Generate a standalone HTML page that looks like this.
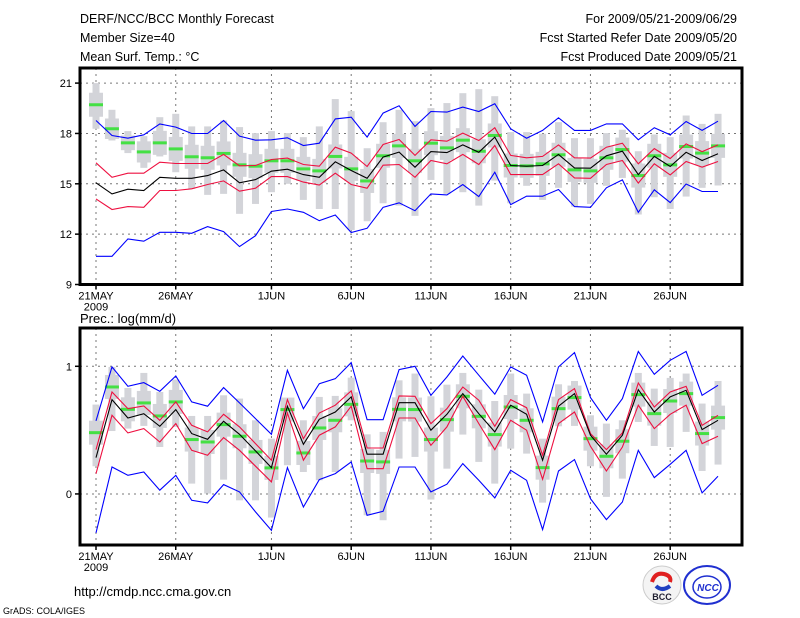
<!DOCTYPE html>
<html><head><meta charset="utf-8">
<style>
html,body{margin:0;padding:0;background:#fff;}
svg{display:block;font-family:"Liberation Sans",sans-serif;}
</style></head>
<body>
<svg id="chart" width="800" height="618" viewBox="0 0 800 618" xmlns="http://www.w3.org/2000/svg">
<g font-size="12.5" fill="#000">
<text x="80" y="23">DERF/NCC/BCC Monthly Forecast</text>
<text x="80" y="42">Member Size=40</text>
<text x="80" y="61">Mean Surf. Temp.: °C</text>
<text x="737" y="23" text-anchor="end">For 2009/05/21-2009/06/29</text>
<text x="737" y="42" text-anchor="end">Fcst Started Refer Date 2009/05/20</text>
<text x="737" y="61" text-anchor="end">Fcst Produced Date 2009/05/21</text>
</g>
<text x="80" y="323" font-size="13">Prec.: log(mm/d)</text>
<text x="74" y="596" font-size="13">http://cmdp.ncc.cma.gov.cn</text>
<text x="3" y="614" font-size="9">GrADS: COLA/IGES</text>
<g>
<circle cx="662" cy="585" r="19" fill="#f4f4f4" stroke="#ccc"/>
<path d="M652 582 q3 -10 12 -8 q8 2 6 8" fill="none" stroke="#e02020" stroke-width="4"/>
<path d="M656 586 q6 6 14 0" fill="none" stroke="#2040c0" stroke-width="4"/>
<text x="662" y="600" font-size="9" font-weight="bold" text-anchor="middle" fill="#223">BCC</text>
</g>
<g>
<ellipse cx="707" cy="585" rx="23" ry="19" fill="#fff" stroke="#2030d0" stroke-width="2"/>
<ellipse cx="707" cy="587" rx="14" ry="11" fill="none" stroke="#2030d0" stroke-width="1.5"/>
<text x="708" y="591" font-size="10" font-style="italic" font-weight="bold" text-anchor="middle" fill="#2030d0">NCC</text>
</g>
<g id="top"></g>
<g id="bot"></g>
</svg>
<script>
// shared x categories (days from 2009/05/21)
const dayLabels = ["21MAY","26MAY","1JUN","6JUN","11JUN","16JUN","21JUN","26JUN"];
const dayLabelIdx = [0,5,11,16,21,26,31,36];
// temperature panel
const tBlueHi = [18.77,17.88,17.72,17.92,18.57,18.38,18.0,18.0,18.77,17.84,17.6,17.62,17.74,17.28,17.42,18.87,18.97,17.78,19.21,19.65,18.42,19.31,19.27,19.57,19.31,19.77,18.28,17.72,18.18,18.93,18.18,18.18,18.57,18.57,17.62,18.34,17.92,18.71,18.18,18.73];
const tBlueLo = [10.68,10.68,11.72,11.58,12.11,12.11,12.05,12.45,12.15,11.26,11.91,13.35,13.5,13.3,12.8,13.14,12.1,12.35,13.6,13.87,13.4,14.4,14.34,14.96,14.24,15.69,13.76,14.26,14.26,14.66,13.64,13.6,14.76,15.23,13.3,14.64,13.88,14.99,14.54,14.54];
const tRedHi = [16.25,15.39,15.63,15.63,16.29,16.21,16.21,16.21,16.75,16.07,16.09,16.45,16.53,16.15,16.05,17.18,16.83,16.03,17.34,17.64,16.69,17.62,17.54,18.02,17.58,18.34,16.69,16.55,16.63,17.32,16.55,16.53,17.18,17.42,16.19,17.1,16.51,17.38,16.92,17.32];
const tRedLo = [14.1,13.47,13.64,13.6,14.6,14.6,14.7,14.96,15.17,14.56,14.74,15.43,15.43,15.1,14.92,15.63,14.96,14.74,16.11,16.15,15.39,16.39,16.19,16.75,16.15,17.28,15.55,15.55,15.55,16.19,15.35,15.33,16.15,16.39,15.04,16.19,15.53,16.33,15.99,16.33];
const tMean = [15.06,14.4,14.68,14.6,15.39,15.33,15.33,15.49,15.83,15.06,15.25,15.75,15.87,15.55,15.39,16.31,15.79,15.33,16.59,16.89,15.99,16.92,16.86,17.32,16.88,17.78,16.09,16.05,16.09,16.75,15.95,15.93,16.67,16.94,15.55,16.63,16.03,16.88,16.39,16.79];
const tGreen = [19.71,18.28,17.44,16.9,17.44,17.08,16.61,16.55,16.81,16.13,16.05,16.37,16.37,15.89,15.77,16.63,15.89,15.17,16.67,17.26,16.37,17.42,17.14,17.6,16.94,17.88,16.09,16.07,16.19,16.73,15.83,15.77,16.55,17.04,15.49,16.67,16.13,17.22,16.83,17.26];
const tBarHi = [21.0,19.41,18.14,17.84,18.97,19.17,18.42,18.42,18.77,18.38,18.02,18.14,18.02,17.78,18.42,20.05,19.33,17.12,18.67,19.41,18.73,19.51,19.81,20.4,20.64,20.22,18.08,18.08,17.98,18.67,17.72,17.72,18.02,18.22,16.94,17.94,17.78,19.07,18.57,19.17];
const tBarLo = [18.28,17.58,16.83,15.95,16.63,15.69,14.7,14.34,14.4,13.21,13.8,14.5,15.0,14.04,13.5,13.5,12.25,12.77,13.84,13.7,13.09,15.23,14.4,14.5,13.7,15.19,13.84,14.88,14.04,14.76,13.64,13.8,14.88,15.35,13.17,14.2,13.5,14.24,14.76,14.9];
const tTicks = [9,12,15,18,21];
// precipitation panel
const pBlueHi = [0.572,0.995,0.843,0.872,0.804,0.924,0.721,0.687,0.833,0.713,0.59,0.467,0.969,0.668,0.864,0.903,1.029,0.582,0.582,0.974,1.0,0.773,0.916,1.081,0.93,0.781,0.995,0.93,0.564,0.995,1.107,0.755,0.577,0.747,1.117,0.937,1.047,1.117,0.773,0.851];
const pBlueLo = [-0.305,0.211,0.146,0.172,0.029,0.146,-0.05,-0.07,0.073,0.016,-0.141,-0.285,0.206,-0.102,0.112,0.159,0.251,-0.167,-0.136,0.211,0.211,0.016,0.076,0.238,0.107,-0.031,0.185,0.107,-0.279,0.18,0.269,-0.037,-0.201,-0.063,0.342,0.128,0.232,0.342,0.008,0.138];
const pRedHi = [0.347,0.799,0.668,0.689,0.577,0.721,0.538,0.486,0.624,0.525,0.394,0.264,0.739,0.433,0.634,0.695,0.807,0.36,0.36,0.768,0.765,0.551,0.668,0.838,0.734,0.53,0.739,0.676,0.303,0.739,0.825,0.473,0.347,0.478,0.869,0.681,0.799,0.843,0.538,0.616];
const pRedLo = [0.159,0.616,0.478,0.512,0.407,0.551,0.342,0.303,0.441,0.342,0.217,0.094,0.634,0.264,0.46,0.525,0.687,0.198,0.198,0.595,0.595,0.381,0.525,0.765,0.551,0.347,0.577,0.499,0.115,0.551,0.642,0.373,0.18,0.368,0.695,0.512,0.624,0.695,0.394,0.452];
const pMean = [0.285,0.739,0.595,0.629,0.53,0.661,0.473,0.428,0.569,0.467,0.337,0.206,0.687,0.389,0.585,0.642,0.76,0.311,0.311,0.715,0.715,0.499,0.624,0.786,0.629,0.486,0.695,0.624,0.264,0.687,0.786,0.46,0.311,0.46,0.817,0.642,0.76,0.812,0.504,0.577];
const pGreen = [0.48,0.838,0.663,0.713,0.611,0.721,0.426,0.407,0.543,0.452,0.329,0.204,0.661,0.321,0.517,0.577,0.702,0.258,0.251,0.663,0.661,0.426,0.582,0.765,0.608,0.465,0.681,0.577,0.206,0.668,0.755,0.433,0.295,0.413,0.778,0.629,0.728,0.786,0.473,0.598];
const pBarHi = [0.7,0.995,0.83,0.948,0.799,0.896,0.611,0.611,0.773,0.747,0.577,0.433,0.739,0.577,0.76,0.768,0.911,0.467,0.486,0.89,0.943,0.765,0.856,0.948,0.817,0.728,0.943,0.786,0.433,0.859,0.885,0.616,0.551,0.577,0.948,0.825,0.909,0.943,0.708,0.885];
const pBarLo = [0.217,0.493,0.512,0.533,0.368,0.525,0.081,0.003,0.112,-0.05,-0.05,-0.185,0.225,0.172,0.107,0.172,0.577,-0.167,-0.206,0.277,0.29,-0.044,0.198,0.465,0.251,0.081,0.355,0.316,-0.068,0.53,0.533,0.217,-0.023,0.12,0.564,0.376,0.368,0.486,0.18,0.23];
const pTicks = [0,1];

const NS="http://www.w3.org/2000/svg";
const L=80, R=742, X0=96, DX=15.95;
const xs = i => X0 + i*DX;
function mk(g, tag, attrs){const e=document.createElementNS(NS,tag);for(const k in attrs)e.setAttribute(k,attrs[k]);g.appendChild(e);return e;}
function panel(gid, top, bot, vmin, vmax, ticks, bHi, bLo, green, blueHi, blueLo, redHi, redLo, mean, pname){
  const g=document.getElementById(gid);
  
  
  const ys = v => bot - (v-vmin)/(vmax-vmin)*(bot-top);
  ticks.forEach(t=>{ if(t>vmin && t<vmax){ const l=mk(g,'line',{x1:L,x2:R,y1:ys(t),y2:ys(t),stroke:'#777','stroke-dasharray':'2,4','stroke-width':1});
    
    }});
  dayLabelIdx.forEach(i=>{ const l=mk(g,'line',{x1:xs(i),x2:xs(i),y1:top,y2:bot,stroke:'#777','stroke-dasharray':'2,4','stroke-width':1});
    
    });
  bHi.forEach((h,i)=>{ const r=mk(g,'rect',{x:xs(i)-3.5,y:ys(h),width:7,height:ys(bLo[i])-ys(h),fill:'#d3d4d9'});
    
    
    const b=mk(g,'rect',{x:xs(i)-7,y:ys(green[i])-Math.min(12,(ys(bLo[i])-ys(h))/3),width:14,height:Math.min(24,(ys(bLo[i])-ys(h))*2/3),fill:'#d3d4d9'});
    
    });
  green.forEach((v,i)=>{ const r=mk(g,'rect',{x:xs(i)-7,y:ys(v)-1.5,width:14,height:3,fill:'#44e044'});
    
    });
  const line=(arr,col,nm)=>{ const p=mk(g,'polyline',{points:arr.map((v,i)=>xs(i).toFixed(1)+','+ys(v).toFixed(1)).join(' '),fill:'none',stroke:col,'stroke-width':1.1});
    
    };
  line(blueHi,'#0000ff','blue-upper-line'); line(blueLo,'#0000ff','blue-lower-line');
  line(redHi,'#ee1040','red-upper-line'); line(redLo,'#ee1040','red-lower-line');
  line(mean,'#000','ensemble-mean-line');
  const f=mk(g,'rect',{x:L,y:top,width:R-L,height:bot-top,fill:'none',stroke:'#000','stroke-width':3});
  
  
  ticks.forEach(t=>{ const y=ys(t);
    const tk=mk(g,'line',{x1:L-5,x2:L,y1:y,y2:y,stroke:'#000','stroke-width':1.5});
    
    
    const tx=mk(g,'text',{x:L-8,y:y+4,'font-size':11,'text-anchor':'end'}); tx.textContent=t;
    
    });
  dayLabelIdx.forEach((i,k)=>{ const tk=mk(g,'line',{x1:xs(i),x2:xs(i),y1:bot,y2:bot+5,stroke:'#000','stroke-width':1.5});
    
    
    const tx=mk(g,'text',{x:xs(i),y:bot+15,'font-size':11,'text-anchor':'middle'}); tx.textContent=dayLabels[k];
    
    });
  const yr=mk(g,'text',{x:xs(0),y:bot+26,'font-size':11,'text-anchor':'middle'}); yr.textContent='2009';
  
  
}
panel('top',68,284.5,9,21.9,tTicks,tBarHi,tBarLo,tGreen,tBlueHi,tBlueLo,tRedHi,tRedLo,tMean,'temperature-panel');
panel('bot',328,545,-0.4,1.3,pTicks,pBarHi,pBarLo,pGreen,pBlueHi,pBlueLo,pRedHi,pRedLo,pMean,'precipitation-panel');
</script>
</body></html>
